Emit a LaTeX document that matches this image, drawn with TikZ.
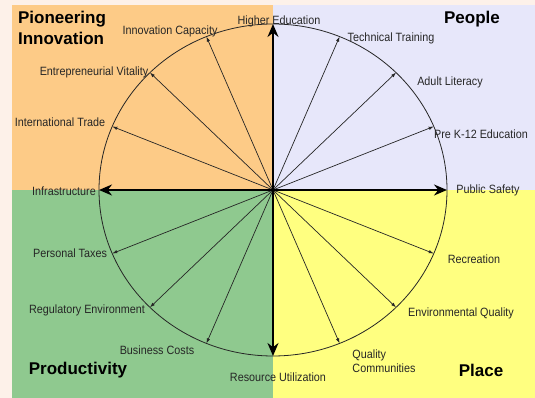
\documentclass[tikz,border=0pt]{standalone}
\usepackage{fontspec}
\setmainfont{Liberation Sans}
\newfontfamily\lblfont[FakeStretch=0.9]{Liberation Sans}
\usetikzlibrary{arrows.meta}
\definecolor{pagebg}{RGB}{253,241,233}
\definecolor{innov}{RGB}{253,203,135}
\definecolor{people}{RGB}{231,231,250}
\definecolor{prod}{RGB}{143,201,143}
\definecolor{place}{RGB}{255,255,128}

\begin{document}
\begin{tikzpicture}[x=1pt,y=1pt,
    spoke/.style={draw=black!85,line width=0.7pt,-{Latex[length=5pt,width=3.5pt]}},
    axis/.style={draw=black,line width=1.8pt,{Stealth[length=13pt,width=11pt]}-{Stealth[length=13pt,width=11pt]}},
    lbl/.style={font=\lblfont\fontsize{12}{14}\selectfont,inner sep=0pt,text=black!85},
    title/.style={font=\bfseries\fontsize{17}{21}\selectfont,inner sep=0pt,align=left}]
  \useasboundingbox (0,0) rectangle (535,398);
  \fill[pagebg] (0,0) rectangle (535,398);
  % the four quadrants
  \fill[innov] (12,208) rectangle (273,393);
  \fill[people] (273,208) rectangle (535,393);
  \fill[prod] (12,0) rectangle (273,208);
  \fill[place] (273,0) rectangle (535,208);
  \coordinate (c) at (273,208);
  \draw[black!85,line width=0.8pt] (c) ellipse [x radius=174,y radius=166];
  \foreach \a/\n in {0/ps,22.5/pk,45/al,67.5/tt,90/he,112.5/ic,135/ev,157.5/it,
      180/inf,202.5/pt,225/re,247.5/bc,270/ru,292.5/qc,315/eq,337.5/rec}
    \path (c) ++(\a:174 and 166) coordinate (\n);
  \foreach \n in {pk,al,tt,ic,ev,it,pt,re,bc,qc,eq,rec}
    \draw[spoke] (c) -- (\n);
  \draw[axis] (inf) -- (ps);
  \draw[axis] (ru) -- (he);
  % labels
  \node[lbl] (lhe) at (279,377) {Higher Education};
  \node[lbl] (lic) at (170,367) {Innovation Capacity};
  \node[lbl] (lev) at (94,326) {Entrepreneurial Vitality};
  \node[lbl] (lit) at (60,276) {International Trade};
  \node[lbl] (linf) at (64,207) {Infrastructure};
  \node[lbl] (ltt) at (391,360) {Technical Training};
  \node[lbl] (lal) at (450,316) {Adult Literacy};
  \node[lbl] (lpk) at (481,264) {Pre K-12 Education};
  \node[lbl] (lps) at (488,208) {Public Safety};
  \node[lbl] (lpt) at (70,145) {Personal Taxes};
  \node[lbl] (lre) at (87,88) {Regulatory Environment};
  \node[lbl] (lbc) at (157,48) {Business Costs};
  \node[lbl] (lru) at (278,21) {Resource Utilization};
  \node[lbl] (lrec) at (474,139) {Recreation};
  \node[lbl] (leq) at (461,85) {Environmental Quality};
  \node[lbl,align=left] (lqc) at (384,37) {Quality\\Communities};
  % quadrant titles
  \node[title] (tinnov) at (62,370) {Pioneering\\Innovation};
  \node[title] (tpeople) at (472,379) {People};
  \node[title] (tprod) at (78,28) {Productivity};
  \node[title] (tplace) at (481,28) {Place};
\end{tikzpicture}
\end{document}
